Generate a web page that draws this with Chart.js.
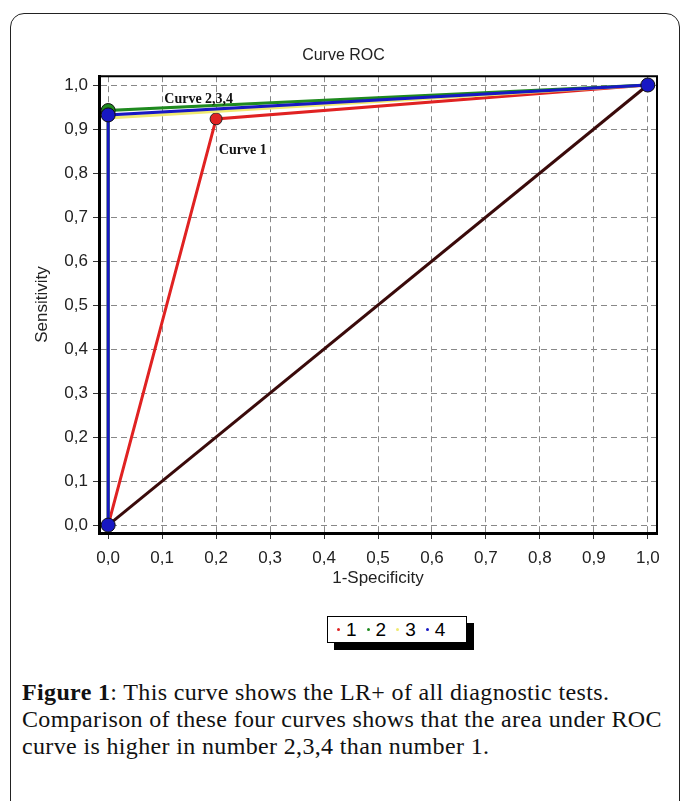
<!DOCTYPE html>
<html>
<head>
<meta charset="utf-8">
<script src="https://cdn.jsdelivr.net/npm/chart.js@4.4.1/dist/chart.umd.min.js"></script>
<style>
    html, body { margin: 0; padding: 0; background: #fff; }
    body { width: 683px; height: 801px; position: relative; overflow: hidden; }
    #frame {
        position: absolute; left: 10px; top: 13px; width: 670px; height: 840px;
        border: 1.5px solid #222; border-radius: 14px; box-sizing: border-box;
    }
    #rocChart { position: absolute; left: 0; top: 0; }
    #legend {
        position: absolute; left: 327px; top: 616px; width: 140px; height: 27px;
        border: 1px solid #000; background: #fff; box-sizing: border-box;
        box-shadow: 7px 7px 0 #000;
        font-family: "Liberation Sans", Arial, sans-serif; font-size: 19px;
        display: flex; align-items: center; padding-left: 9px;
    }
    #legend span.item { display: inline-flex; align-items: center; margin-right: 10px; }
    #legend span.dot { width: 3px; height: 3px; border-radius: 50%; margin-right: 6px; }
    #caption {
        position: absolute; left: 22px; top: 679px; width: 655px;
        font-family: "Liberation Serif", "Times New Roman", serif; font-size: 24px; line-height: 27px;
        letter-spacing: 0.35px; color: #111; white-space: nowrap;
    }
</style>
</head>
<body>
<div id="frame"></div>
<canvas id="rocChart" width="683" height="600"></canvas>
<div id="legend"></div>
<div id="caption"><b>Figure 1</b>: This curve shows the LR+ of all diagnostic tests.<br>Comparison of these four curves shows that the area under ROC<br>curve is higher in number 2,3,4 than number 1.</div>
<script>
// ROC points (1-specificity, sensitivity)
const curve1 = [{x: 0, y: 0}, {x: 0.2, y: 0.923}, {x: 1, y: 1}];
const curve2 = [{x: 0, y: 0}, {x: 0, y: 0.942}, {x: 1, y: 1}];
const curve3 = [{x: 0, y: 0}, {x: 0, y: 0.925}, {x: 1, y: 1}];
const curve4 = [{x: 0, y: 0}, {x: 0, y: 0.932}, {x: 1, y: 1}];
const chance = [{x: 0, y: 0}, {x: 1, y: 1}];

const seriesNames = ['1', '2', '3', '4'];
const seriesColors = ['#e02222', '#1f8a1f', '#f0ea70', '#1818c4'];

const tickValues = [0, 0.1, 0.2, 0.3, 0.4, 0.5, 0.6, 0.7, 0.8, 0.9, 1];

// text labels placed in data space
const curveNotes = [
    {text: 'Curve 2,3,4', x: 0.104, y: 0.968},
    {text: 'Curve 1', x: 0.205, y: 0.852}
];

document.addEventListener('DOMContentLoaded', function() {
    buildLegend();
    drawRoc();
});

function buildLegend() {
    const box = document.getElementById('legend');
    seriesNames.forEach((name, i) => {
        const item = document.createElement('span');
        item.className = 'item';
        const dot = document.createElement('span');
        dot.className = 'dot';
        dot.style.background = seriesColors[i];
        item.appendChild(dot);
        item.appendChild(document.createTextNode(name));
        box.appendChild(item);
    });
}

function commaLabel(value) {
    return Number(value).toFixed(1).replace('.', ',');
}

// top and right edges of the plot box + curve notes
const framePlugin = {
    id: 'framePlugin',
    afterDraw(chart) {
        const {ctx, chartArea, scales} = chart;
        ctx.save();
        ctx.strokeStyle = '#000';
        ctx.lineWidth = 2;
        ctx.beginPath();
        ctx.moveTo(chartArea.left, chartArea.top);
        ctx.lineTo(chartArea.right, chartArea.top);
        ctx.lineTo(chartArea.right, chartArea.bottom);
        ctx.stroke();

        ctx.fillStyle = '#111';
        ctx.font = 'bold 14px "Liberation Serif", serif';
        ctx.textBaseline = 'middle';
        curveNotes.forEach(n => {
            ctx.fillText(n.text, scales.x.getPixelForValue(n.x), scales.y.getPixelForValue(n.y));
        });
        ctx.restore();
    }
};

function drawRoc() {
    const ctx = document.getElementById('rocChart').getContext('2d');
    const tickFont = {family: '"Liberation Sans", Arial, sans-serif', size: 17};

    const axis = (min, max) => ({
        type: 'linear',
        min: min,
        max: max,
        afterBuildTicks: function(scale) {
            scale.ticks = tickValues.map(v => ({value: v}));
        },
        ticks: {
            color: '#222',
            font: tickFont,
            callback: commaLabel
        },
        grid: {
            color: '#888',
            lineWidth: 1,
            tickLength: 6,
            tickColor: '#333',
            tickWidth: 1
        },
        border: {
            display: true,
            color: '#000',
            width: 3,
            dash: [6, 4]
        }
    });

    const xAxis = axis(-0.017, 1.017);
    xAxis.ticks.padding = 9;
    xAxis.title = {display: true, text: '1-Specificity', color: '#222', font: tickFont, padding: {top: 2, bottom: 1}};
    xAxis.afterFit = function(scale) { scale.height = 57; };

    const yAxis = axis(-0.018, 1.02);
    yAxis.ticks.padding = 5;
    yAxis.title = {display: true, text: 'Sensitivity', color: '#222', font: tickFont, padding: {top: 2, bottom: 2}};
    yAxis.afterFit = function(scale) { scale.width = 69; };

    new Chart(ctx, {
        type: 'scatter',
        data: {
            datasets: [
                {
                    label: seriesNames[3],
                    data: curve4,
                    showLine: true,
                    borderColor: seriesColors[3],
                    borderWidth: 3,
                    pointRadius: 7,
                    pointBackgroundColor: seriesColors[3],
                    pointBorderColor: '#111',
                    pointBorderWidth: 1
                },
                {
                    label: seriesNames[1],
                    data: curve2,
                    showLine: true,
                    borderColor: seriesColors[1],
                    borderWidth: 3,
                    pointRadius: c => c.dataIndex === 1 ? 7 : 0,
                    pointBackgroundColor: seriesColors[1],
                    pointBorderColor: '#111',
                    pointBorderWidth: 1
                },
                {
                    label: seriesNames[2],
                    data: curve3,
                    showLine: true,
                    borderColor: seriesColors[2],
                    borderWidth: 3,
                    pointRadius: 0
                },
                {
                    label: seriesNames[0],
                    data: curve1,
                    showLine: true,
                    borderColor: seriesColors[0],
                    borderWidth: 3,
                    pointRadius: c => c.dataIndex === 1 ? 6 : 0,
                    pointBackgroundColor: seriesColors[0],
                    pointBorderColor: '#222',
                    pointBorderWidth: 1
                },
                {
                    label: 'chance',
                    data: chance,
                    showLine: true,
                    borderColor: '#3a0a0a',
                    borderWidth: 3,
                    pointRadius: 0
                }
            ]
        },
        options: {
            responsive: false,
            animation: false,
            layout: {padding: {left: 30, right: 26, top: 0, bottom: 10}},
            plugins: {
                legend: {display: false},
                tooltip: {enabled: false},
                title: {
                    display: true,
                    text: 'Curve ROC',
                    color: '#222',
                    font: {family: '"Liberation Sans", Arial, sans-serif', size: 16, weight: 'normal'},
                    padding: {top: 46, bottom: 11}
                }
            },
            scales: {x: xAxis, y: yAxis}
        },
        plugins: [framePlugin]
    });
}
</script>
</body>
</html>
